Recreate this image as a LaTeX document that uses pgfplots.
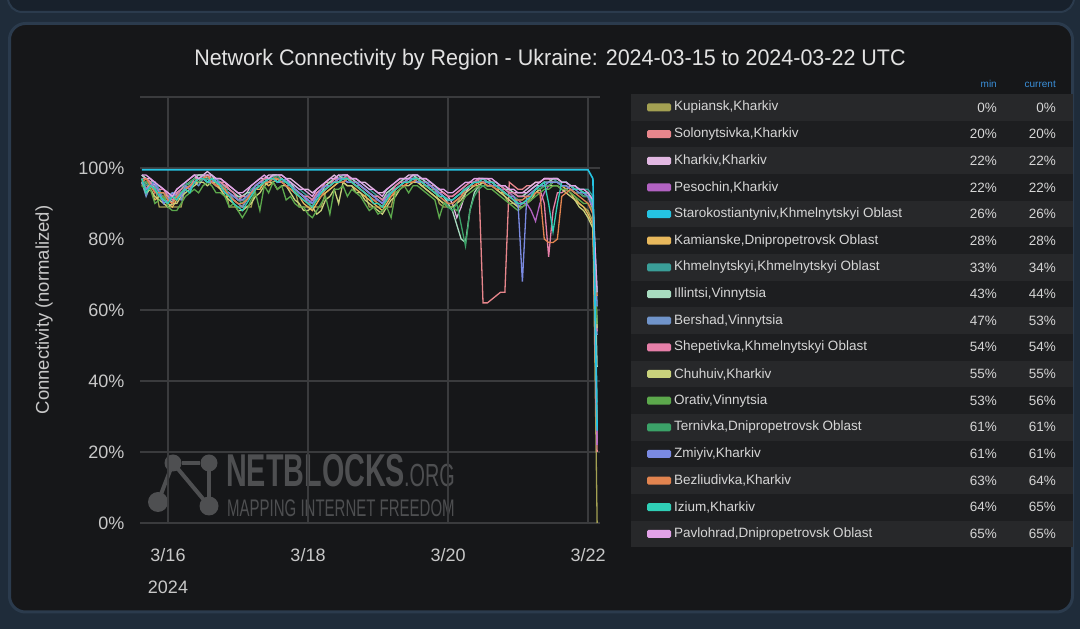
\documentclass[border=0pt]{standalone}
\usepackage{pgfplots}
\pgfplotsset{compat=1.18}
\usepackage{pgfplotstable}
\usepackage{fontspec}
\setmainfont{Liberation Sans}

\definecolor{outerbg}{HTML}{1F2C3A}
\definecolor{topbg}{HTML}{18212C}
\definecolor{panelbg}{HTML}{161719}
\definecolor{panelborder}{HTML}{2B3B4D}
\definecolor{gridc}{HTML}{3A3B3D}
\definecolor{tickc}{HTML}{C8C8C8}
\definecolor{titlec}{HTML}{E2E2E2}
\definecolor{bandlight}{HTML}{27282A}
\definecolor{banddark}{HTML}{1D1E20}
\definecolor{legtext}{HTML}{D6D6D6}
\definecolor{headc}{HTML}{3A8FD9}
\definecolor{wm}{HTML}{4E4F51}

\definecolor{c1}{HTML}{A3A052}
\definecolor{c2}{HTML}{E8868C}
\definecolor{c3}{HTML}{E2B8E2}
\definecolor{c4}{HTML}{B262C2}
\definecolor{c5}{HTML}{25C3E2}
\definecolor{c6}{HTML}{E8B85C}
\definecolor{c7}{HTML}{3A9E98}
\definecolor{c8}{HTML}{A8DCC0}
\definecolor{c9}{HTML}{7094CA}
\definecolor{c10}{HTML}{E67FA8}
\definecolor{c11}{HTML}{C9D27C}
\definecolor{c12}{HTML}{5CA84C}
\definecolor{c13}{HTML}{3BA268}
\definecolor{c14}{HTML}{7A8AE2}
\definecolor{c15}{HTML}{E2844F}
\definecolor{c16}{HTML}{2FCFB6}
\definecolor{c17}{HTML}{E2A2E8}

\pgfplotstableread{
x s1 s2 s3 s4 s5 s6 s7 s8 s9 s10 s11 s12 s13 s14 s15 s16 s17
-0.375 96 97 98 96 99.5 95 97 98 96 97 96 95 97 96 96 97 98
-0.3125 96 94 97 93 99.5 96 95 97 92 97 93 94 96 94 97 93 98
-0.25 95 96 97 95 99.5 94 96 96 95 96 94 94 95 95 95 95 97
-0.1875 95 96 95 94 99.5 91 96 94 95 93 92 90 94 96 93 94 96
-0.125 89 94 95 93 99.5 92 94 93 93 94 91 91 93 93 93 92 95
-0.0625 89 91 94 93 99.5 92 91 93 90 94 90 92 93 90 93 91 94
0 89 92 93 91 99.5 90 92 92 91 92 89 89 91 91 91 90 93
0.0625 89 93 92 90 99.5 89 93 90 92 91 90 88 92 93 90 92 92
0.125 89 93 94 92 99.5 91 93 93 92 93 90 88 92 92 92 91 94
0.1875 89 92 95 94 99.5 93 94 94 91 94 92 90 93 92 93 93 95
0.25 95 95 96 95 99.5 94 96 95 94 95 93 92 95 95 94 94 96
0.3125 96 96 97 94 99.5 95 95 96 95 94 94 93 96 94 95 93 97
0.375 96 97 98 96 99.5 96 97 97 96 97 95 94 97 96 96 96 98
0.4375 96 96 98 97 99.5 96 97 98 95 97 96 93 96 97 97 97 97
0.5 97 98 98 97 99.5 97 98 98 97 97 96 95 97 97 97 97 98
0.5625 97 97 99 96 99.5 97 96 97 97 98 95 96 97 96 98 96 98
0.625 96 97 98 97 99.5 96 97 98 96 97 96 95 97 96 96 97 98
0.6875 96 95 97 96 99.5 95 97 96 95 96 96 93 96 97 95 96 97
0.75 95 96 97 95 99.5 94 96 96 95 96 94 93 95 95 95 95 97
0.8125 95 96 96 93 99.5 92 94 95 94 95 92 92 94 93 94 93 96
0.875 89 94 95 93 99.5 92 94 94 93 94 91 89 93 93 92 92 95
0.9375 89 93 94 92 99.5 91 93 93 91 93 90 90 92 92 91 90 94
1.0 89 91 93 91 99.5 90 92 92 90 91 88 88 91 91 90 89 93
1.0625 89 91 92 90 99.5 89 91 92 89 92 88 86 90 91 90 88 93
1.125 89 92 93 92 99.5 91 92 93 91 92 89 88 92 92 91 90 94
1.1875 89 93 95 93 99.5 93 94 93 92 93 90 91 93 93 93 92 95
1.25 94 95 96 94 99.5 94 95 95 94 95 92 93 94 95 94 94 96
1.3125 95 96 97 95 99.5 94 95 96 95 96 93 88 95 96 95 95 97
1.375 96 97 97 96 99.5 96 97 97 96 97 95 95 96 96 96 96 98
1.4375 96 97 98 96 99.5 95 96 97 96 97 96 93 97 97 96 97 97
1.5 97 98 98 97 99.5 96 98 98 97 97 96 96 97 97 97 97 98
1.5625 97 96 98 97 99.5 97 97 98 96 98 94 94 98 96 97 96 98
1.625 96 97 98 96 99.5 96 97 97 96 97 95 95 96 96 96 97 98
1.6875 96 96 97 96 99.5 95 96 96 95 96 95 91 96 97 95 96 97
1.75 95 95 97 95 99.5 94 96 96 95 95 93 92 95 95 94 95 96
1.8125 94 94 96 94 99.5 93 95 94 94 94 91 90 94 94 93 93 95
1.875 89 93 95 93 99.5 92 94 93 93 93 90 89 92 93 92 92 94
1.9375 89 92 94 92 99.5 90 93 92 92 92 88 89 91 92 91 91 94
2.0 89 92 94 90 99.5 89 92 91 91 92 88 87 90 91 90 90 93
2.0625 89 91 93 91 99.5 88 91 90 90 91 89 86 90 90 89 89 92
2.125 89 93 94 92 99.5 90 93 92 92 93 87 88 91 92 91 91 94
2.1875 89 94 95 94 99.5 92 94 93 93 94 88 90 92 94 92 93 95
2.25 93 96 96 95 99.5 93 95 95 94 95 91 92 94 95 94 94 96
2.3125 94 96 97 95 99.5 94 96 96 95 95 92 87 95 95 95 95 97
2.375 95 97 98 96 99.5 95 97 97 96 97 94 94 96 96 96 96 97
2.4375 96 96 97 97 99.5 96 97 98 96 97 90 94 96 97 96 96 98
2.5 96 97 98 97 99.5 96 98 97 97 97 96 95 97 97 96 97 98
2.5625 97 97 98 96 99.5 95 97 97 97 98 95 92 97 96 97 97 98
2.625 96 96 97 96 99.5 95 97 97 96 96 95 94 96 96 96 96 97
2.6875 95 96 97 95 99.5 94 96 96 95 96 93 93 95 96 95 95 97
2.75 94 95 96 94 99.5 93 96 95 95 95 93 92 94 95 94 94 96
2.8125 93 94 96 93 99.5 92 95 94 94 94 91 90 93 94 93 93 95
2.875 89 93 95 92 99.5 91 94 93 93 93 90 88 92 93 92 92 94
2.9375 89 92 94 91 99.5 90 93 92 92 92 89 89 91 92 91 90 94
3.0 89 91 93 91 99.5 89 92 92 91 92 88 87 90 91 90 90 93
3.0625 89 90 93 90 99.5 88 91 91 90 91 87 88 89 90 89 89 92
3.125 89 92 94 92 99.5 90 92 93 91 92 89 89 91 92 91 91 94
3.1875 89 93 95 93 99.5 92 94 94 93 93 91 86 93 93 92 93 95
3.25 94 95 96 94 99.5 93 95 95 94 95 92 93 94 94 94 94 96
3.3125 95 96 97 95 99.5 94 96 96 95 96 94 94 95 95 95 95 97
3.375 96 96 97 96 99.5 95 97 97 96 96 95 95 96 96 95 96 97
3.4375 96 97 98 96 99.5 96 97 97 96 97 95 93 96 97 96 96 97
3.5 96 97 98 97 99.5 96 97 98 97 97 96 95 97 97 96 97 98
3.5625 97 96 98 97 99.5 96 98 97 96 97 96 95 97 96 97 97 98
3.625 95 96 97 96 99.5 95 97 97 96 96 95 94 96 96 96 96 97
3.6875 95 96 97 95 99.5 94 96 96 95 96 94 93 95 96 95 95 97
3.75 94 95 96 95 99.5 93 96 95 95 95 93 92 94 95 94 94 96
3.8125 94 95 95 94 99.5 92 95 94 94 94 92 91 93 94 93 93 95
3.875 90 94 94 93 99.5 91 93 93 92 93 91 86 92 93 92 92 94
3.9375 89 93 93 92 99.5 90 92 92 91 93 90 90 91 92 91 92 94
4.0 89 92 92 91 99.5 90 91 90 90 92 89 89 89 91 90 91 93
4.0625 89 92 90 91 99.5 90 91 88 90 92 89 89 88 91 90 91 93
4.125 90 93 86 92 99.5 91 92 84 91 93 90 88 90 92 91 92 94
4.1875 92 94 89 93 99.5 92 93 80 92 94 91 90 84 93 92 93 95
4.25 94 95 93 94 99.5 94 95 79 94 95 93 92 78 94 94 94 96
4.3125 95 96 95 95 99.5 95 96 88 95 96 94 93 88 95 95 95 96
4.375 95 96 96 96 99.5 95 96 93 96 96 95 94 92 96 95 96 97
4.4375 96 97 97 96 99.5 96 97 95 96 97 95 95 94 96 96 96 97
4.5 96 62 97 96 99.5 96 97 96 96 97 96 95 95 96 96 97 97
4.5625 96 62 97 95 99.5 95 96 96 95 96 95 94 95 96 95 96 97
4.625 95 63 96 95 99.5 95 96 96 95 96 95 94 95 95 95 96 97
4.6875 95 64 96 94 99.5 94 96 95 94 95 94 93 94 95 94 95 96
4.75 94 65 95 94 99.5 93 95 95 94 95 93 92 94 94 94 94 95
4.8125 92 65 95 94 99.5 93 94 94 93 94 92 91 93 93 93 93 95
4.875 90 96 94 93 99.5 92 93 94 92 93 91 90 92 92 92 92 94
4.9375 90 95 93 92 99.5 91 93 93 91 93 90 89 92 92 91 91 94
5.0 90 94 93 91 99.5 90 92 92 89 92 89 88 91 90 91 90 93
5.0625 90 94 93 90 99.5 90 92 92 90 92 89 89 91 68 91 90 93
5.125 90 95 94 90 99.5 91 93 93 91 92 90 90 92 92 92 91 93
5.1875 92 95 95 88 99.5 92 94 94 92 93 91 91 93 93 92 92 94
5.25 94 96 96 85 99.5 93 95 95 94 94 93 92 94 94 93 94 95
5.3125 95 96 96 90 99.5 94 95 95 95 94 94 93 94 95 93 95 96
5.375 95 97 97 93 99.5 95 96 96 96 90 95 94 95 95 80 96 97
5.4375 96 97 97 95 99.5 95 96 96 96 75 95 94 95 96 79 90 97
5.5 96 96 97 96 99.5 96 97 97 96 88 95 95 96 96 79 82 97
5.5625 96 96 97 96 99.5 96 96 97 96 93 95 95 96 96 80 90 97
5.625 95 95 96 95 99.5 95 96 96 95 93 94 94 95 95 92 96 96
5.6875 94 95 96 95 99.5 94 96 96 95 94 93 94 95 95 93 96 96
5.75 93 94 95 94 99.5 93 95 95 94 95 92 93 94 94 94 95 95
5.8125 92 93 94 93 99.5 91 95 95 93 94 91 92 93 94 93 94 95
5.875 90 93 94 93 99.5 90 94 94 93 94 89 91 93 93 92 94 94
5.9375 89 92 93 93 99.5 89 94 93 92 93 88 90 92 93 91 93 94
6.0 88 92 93 92 99.5 87 94 93 92 93 86 90 92 92 90 93 93
6.07 85 88 90 89 97 84 92 91 90 90 83 88 90 89 87 90 91
6.13 0 20 22 22 26 28 34 44 53 54 55 56 61 61 64 65 65
}\datatab

\newcommand{\legfont}{\fontsize{13.5}{16}\selectfont}
\newcommand{\legrow}[5]{%
  \pgfmathsetmacro{\yc}{521.5-26.65*#1}%
  \ifodd#1 \def\bandc{banddark}\else\def\bandc{bandlight}\fi
  \fill[\bandc] (631,\yc-13.3) rectangle (1073,\yc+13.3);
  \fill[#3, rounded corners=1.5] (647,\yc-4) rectangle (671,\yc+4);
  \node[anchor=west, text=legtext, font=\legfont, inner sep=0] at (674,\yc) {#2};
  \node[anchor=east, text=legtext, font=\legfont, inner sep=0] at (997,\yc) {#4\%};
  \node[anchor=east, text=legtext, font=\legfont, inner sep=0] at (1056,\yc) {#5\%};
}

\begin{document}
\begin{tikzpicture}[x=1pt,y=1pt]
\useasboundingbox (0,0) rectangle (1080,629);
% backgrounds
\fill[outerbg] (0,0) rectangle (1080,629);
\begin{scope}
\clip (0,0) rectangle (1080,629);
\draw[panelborder, line width=2, fill=topbg, rounded corners=14] (8,617) rectangle (1074,660);
\end{scope}
\draw[panelborder, line width=3, fill=panelbg, rounded corners=16] (9.5,17) rectangle (1072.5,605.5);

% title
\node[text=titlec, font=\fontsize{22.5}{26}\selectfont] at (550,569)
  {\scalebox{0.955}[1]{Network Connectivity by Region - Ukraine: 2024-03-15 to 2024-03-22 UTC}};

% y label
\node[rotate=90, text=tickc, font=\fontsize{18.5}{22}\selectfont] at (44,319) {Connectivity (normalized)};

% watermark
\begin{scope}[wm]
  \draw[line width=4] (173,166) -- (158,127);
  \draw[line width=4] (173,166) -- (209,123);
  \draw[line width=4] (209,166) -- (209,123);
  \draw[line width=4] (182,166) -- (200,166);
  \fill (173,166) circle (8.5);
  \fill (209,166) circle (8.5);
  \fill (158,127) circle (10);
  \fill (209,123) circle (9.5);
  \node[anchor=south west, inner sep=0, font=\bfseries\fontsize{46}{46}\selectfont] at (226,142) {\scalebox{0.625}[1]{NETBLOCKS}};
  \node[anchor=south west, inner sep=0, font=\fontsize{32}{32}\selectfont] at (404,142) {\scalebox{0.62}[1]{.ORG}};
  \node[anchor=south west, inner sep=0, font=\fontsize{24}{24}\selectfont] at (227,112) {\scalebox{0.625}[1]{MAPPING INTERNET FREEDOM}};
\end{scope}

\begin{axis}[
  at={(140pt,106pt)}, anchor=south west,
  scale only axis, width=460pt, height=426pt,
  xmin=-0.4, xmax=6.171, ymin=0, ymax=120,
  axis line style={draw=none},
  tick style={draw=none},
  grid=major,
  major grid style={gridc, line width=1.2pt},
  xtick={0,2,4,6},
  xticklabels={{3/16\\[4pt]2024},{3/18},{3/20},{3/22}},
  xticklabel style={align=center, text=tickc, font=\fontsize{18}{28}\selectfont, yshift=-22pt},
  ytick={0,20,40,60,80,100,120},
  yticklabels={0\%,20\%,40\%,60\%,80\%,100\%,{}},
  yticklabel style={text=tickc, font=\fontsize{18}{22}\selectfont, xshift=-12pt},
  clip=false,
]
\addplot[c1, line width=1.3pt] table[x=x,y=s1]{\datatab};
\addplot[c2, line width=1.3pt] table[x=x,y=s2]{\datatab};
\addplot[c3, line width=1.3pt] table[x=x,y=s3]{\datatab};
\addplot[c4, line width=1.3pt] table[x=x,y=s4]{\datatab};
\addplot[c6, line width=1.3pt] table[x=x,y=s6]{\datatab};
\addplot[c7, line width=1.3pt] table[x=x,y=s7]{\datatab};
\addplot[c8, line width=1.3pt] table[x=x,y=s8]{\datatab};
\addplot[c9, line width=1.3pt] table[x=x,y=s9]{\datatab};
\addplot[c10, line width=1.3pt] table[x=x,y=s10]{\datatab};
\addplot[c11, line width=1.3pt] table[x=x,y=s11]{\datatab};
\addplot[c12, line width=1.3pt] table[x=x,y=s12]{\datatab};
\addplot[c13, line width=1.3pt] table[x=x,y=s13]{\datatab};
\addplot[c14, line width=1.3pt] table[x=x,y=s14]{\datatab};
\addplot[c15, line width=1.3pt] table[x=x,y=s15]{\datatab};
\addplot[c16, line width=1.3pt] table[x=x,y=s16]{\datatab};
\addplot[c17, line width=1.3pt] table[x=x,y=s17]{\datatab};
\addplot[c5, line width=1.6pt] table[x=x,y=s5]{\datatab};
\end{axis}

% legend table
\node[anchor=east, text=headc, font=\fontsize{10}{12}\selectfont, inner sep=0] at (997,545) {min};
\node[anchor=east, text=headc, font=\fontsize{10}{12}\selectfont, inner sep=0] at (1056,545) {current};
\legrow{0}{Kupiansk,Kharkiv}{c1}{0}{0}
\legrow{1}{Solonytsivka,Kharkiv}{c2}{20}{20}
\legrow{2}{Kharkiv,Kharkiv}{c3}{22}{22}
\legrow{3}{Pesochin,Kharkiv}{c4}{22}{22}
\legrow{4}{Starokostiantyniv,Khmelnytskyi Oblast}{c5}{26}{26}
\legrow{5}{Kamianske,Dnipropetrovsk Oblast}{c6}{28}{28}
\legrow{6}{Khmelnytskyi,Khmelnytskyi Oblast}{c7}{33}{34}
\legrow{7}{Illintsi,Vinnytsia}{c8}{43}{44}
\legrow{8}{Bershad,Vinnytsia}{c9}{47}{53}
\legrow{9}{Shepetivka,Khmelnytskyi Oblast}{c10}{54}{54}
\legrow{10}{Chuhuiv,Kharkiv}{c11}{55}{55}
\legrow{11}{Orativ,Vinnytsia}{c12}{53}{56}
\legrow{12}{Ternivka,Dnipropetrovsk Oblast}{c13}{61}{61}
\legrow{13}{Zmiyiv,Kharkiv}{c14}{61}{61}
\legrow{14}{Bezliudivka,Kharkiv}{c15}{63}{64}
\legrow{15}{Izium,Kharkiv}{c16}{64}{65}
\legrow{16}{Pavlohrad,Dnipropetrovsk Oblast}{c17}{65}{65}
\end{tikzpicture}
\end{document}
